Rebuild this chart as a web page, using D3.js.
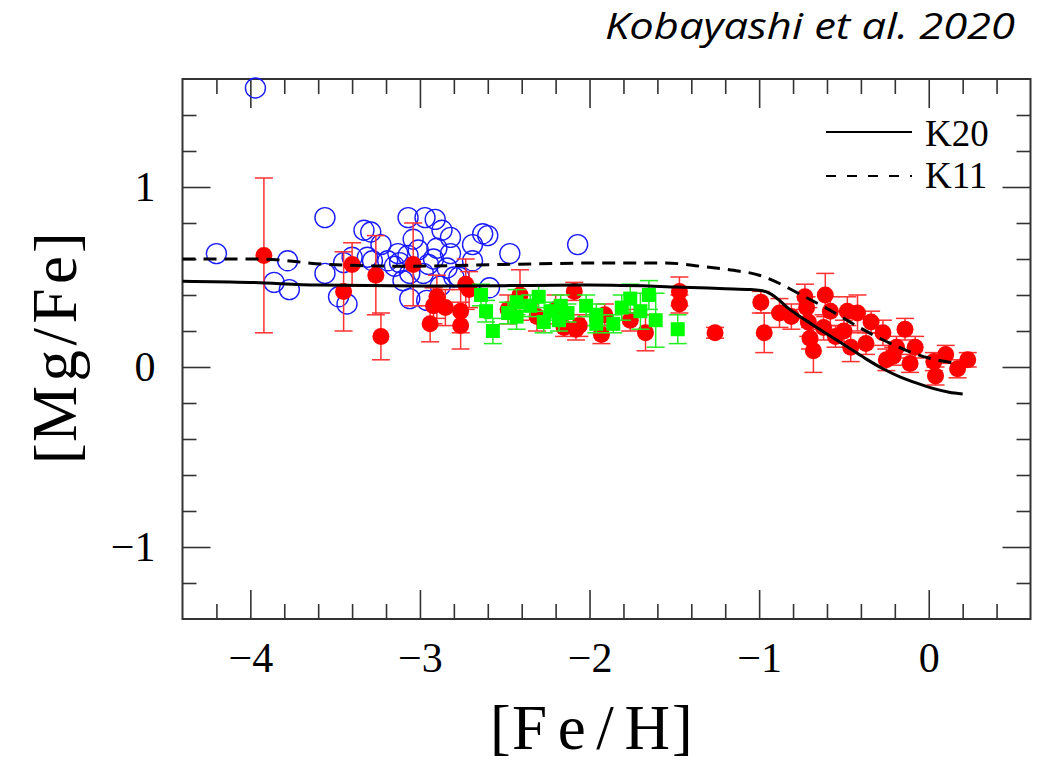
<!DOCTYPE html>
<html><head><meta charset="utf-8">
<script src="https://cdn.jsdelivr.net/npm/d3@7"></script>
<style>body{margin:0;background:#fff}</style>
</head><body>
<svg id="c" width="1046" height="762"></svg>
<script>
// ---- data ----
const xMajorTicks = [-4, -3, -2, -1, 0];
const yMajorTicks = [-1, 0, 1];
const seriesNames = ["K20", "K11"];
const titleText = "Kobayashi et al. 2020";
const xTitle = ["[", "Fe/H", "]"];
const yTitle = ["[", "Mg/Fe", "]"];

const blueX = [-3.97,-4.20,-3.56,-3.86,-3.78,-3.77,-3.56,-3.48,-3.43,-3.45,-3.33,-3.29,-3.31,-3.23,-3.28,-3.19,-3.13,-3.07,-2.97,-2.91,-2.87,-2.82,-3.04,-3.07,-3.01,-2.90,-2.82,-3.12,-3.06,-2.98,-2.84,-2.77,-2.69,-2.69,-2.63,-2.60,-2.47,-2.07,-3.06,-2.96,-2.80,-2.59,-3.40,-3.15,-3.10,-2.95,-2.88,-2.92];
const blueY = [1.55,0.63,0.83,0.47,0.59,0.43,0.52,0.39,0.35,0.58,0.76,0.75,0.61,0.68,0.59,0.59,0.63,0.83,0.83,0.82,0.76,0.72,0.71,0.62,0.65,0.66,0.63,0.58,0.52,0.52,0.55,0.50,0.68,0.59,0.74,0.73,0.63,0.68,0.38,0.37,0.50,0.44,0.61,0.56,0.48,0.57,0.45,0.60];

const redX = [-3.92,-3.40,-3.45,-3.26,-3.23,-3.04,-2.90,-2.92,-2.85,-2.94,-2.76,-2.76,-2.73,-2.71,-2.48,-2.41,-2.31,-2.20,-2.09,-2.08,-2.06,-1.93,-1.91,-1.76,-1.67,-1.47,-1.47,-1.26,-0.99,-0.97,-0.88,-0.81,-0.73,-0.72,-0.71,-0.70,-0.68,-0.61,-0.58,-0.55,-0.48,-0.42,-0.46,-0.34,-0.37,-0.27,-0.25,-0.19,-0.14,-0.08,-0.21,-0.11,0.03,0.10,0.04,0.17,0.23,-0.50,-0.62,-2.15];
const redY = [0.62,0.57,0.42,0.51,0.17,0.57,0.39,0.34,0.33,0.24,0.31,0.23,0.46,0.43,0.32,0.40,0.28,0.32,0.42,0.21,0.23,0.18,0.29,0.26,0.19,0.42,0.35,0.19,0.36,0.19,0.30,0.28,0.39,0.33,0.25,0.16,0.09,0.40,0.31,0.17,0.31,0.30,0.11,0.25,0.13,0.19,0.04,0.11,0.21,0.11,0.06,0.02,0.03,0.07,-0.05,-0.01,0.04,0.20,0.22,0.22];
const redErr = [0.43,0.12,0.22,0.22,0.13,0.23,0.12,0.10,0.10,0.10,0.12,0.13,0.14,0.10,0.08,0.14,0.08,0.08,0.05,0.06,0.06,0.05,0.06,0.06,0.10,0.08,0.05,0.03,0.06,0.11,0.08,0.07,0.07,0.06,0.08,0.06,0.12,0.12,0.08,0.06,0.08,0.10,0.08,0.06,0.06,0.07,0.06,0.06,0.06,0.06,0.05,0.05,0.05,0.05,0.05,0.05,0.04,0.06,0.07,0.05];

const greenX = [-2.64,-2.61,-2.57,-2.43,-2.43,-2.35,-2.30,-2.27,-2.17,-2.18,-2.13,-2.02,-1.96,-1.96,-1.86,-1.81,-1.76,-1.70,-1.65,-1.61,-1.48,-2.48,-2.23];
const greenY = [0.40,0.31,0.20,0.36,0.28,0.34,0.39,0.25,0.34,0.26,0.30,0.34,0.29,0.24,0.24,0.33,0.38,0.31,0.40,0.26,0.21,0.30,0.31];
const greenErr = [0.06,0.06,0.07,0.07,0.07,0.06,0.06,0.06,0.06,0.06,0.05,0.06,0.06,0.05,0.05,0.07,0.08,0.10,0.08,0.15,0.08,0.06,0.05];

const k20X = [-4.4,-4.0,-3.6,-3.0,-2.5,-2.0,-1.5,-1.2,-1.05,-0.98,-0.93,-0.88,-0.84,-0.75,-0.66,-0.56,-0.46,-0.37,-0.27,-0.17,-0.07,0.03,0.12,0.2];
const k20Y = [0.477,0.47,0.455,0.45,0.452,0.455,0.445,0.435,0.43,0.424,0.405,0.37,0.335,0.275,0.22,0.16,0.10,0.045,-0.01,-0.055,-0.09,-0.12,-0.14,-0.15];
const k11X = [-4.4,-3.95,-3.55,-3.1,-2.5,-1.9,-1.55,-1.35,-1.15,-1.0,-0.93,-0.85,-0.8,-0.72,-0.6,-0.5,-0.4,-0.3,-0.2,-0.1,0.0,0.1,0.17];
const k11Y = [0.60,0.60,0.57,0.56,0.57,0.578,0.578,0.56,0.537,0.51,0.485,0.45,0.425,0.385,0.325,0.27,0.215,0.165,0.12,0.08,0.05,0.03,0.02];

// ---- chart ----
const svg = d3.select("#c");
svg.append("rect").attr("width",1046).attr("height",762).attr("fill","#fff");
const L=182.5,R=1030.5,T=79,B=619;
const x = d3.scaleLinear().domain([-4.4,0.6]).range([L,R]);
const y = d3.scaleLinear().domain([-1.4,1.6]).range([B,T]);
const serif = "'Liberation Serif', 'DejaVu Serif', serif";

const xMinor = d3.range(-4.4,0.61,0.2).map(v=>+v.toFixed(1)).filter(v=>!xMajorTicks.includes(v) && v>-4.39 && v<0.59);
const yMinor = d3.range(-1.4,1.61,0.2).map(v=>+v.toFixed(1)).filter(v=>!yMajorTicks.includes(v) && v>-1.39 && v<1.59);

function styleAxis(g){
  g.attr("font-family",null).attr("font-size",null);
  g.select(".domain").remove();
  g.selectAll("line").attr("stroke","#333").attr("stroke-width",1.6);
  g.selectAll("text").style("font-family",serif).style("font-size","42px").attr("fill","#000");
}

// bottom
svg.append("g").attr("transform",`translate(0,${B})`)
  .call(d3.axisBottom(x).tickValues(xMajorTicks).tickSize(-29).tickPadding(23).tickFormat(d3.format("d")))
  .call(styleAxis);
svg.append("g").attr("transform",`translate(0,${B})`)
  .call(d3.axisBottom(x).tickValues(xMinor).tickSize(-15).tickFormat(""))
  .call(styleAxis);
// top
svg.append("g").attr("transform",`translate(0,${T})`)
  .call(d3.axisTop(x).tickValues(xMajorTicks).tickSize(-29).tickFormat(""))
  .call(styleAxis);
svg.append("g").attr("transform",`translate(0,${T})`)
  .call(d3.axisTop(x).tickValues(xMinor).tickSize(-15).tickFormat(""))
  .call(styleAxis);
// left
svg.append("g").attr("transform",`translate(${L},0)`)
  .call(d3.axisLeft(y).tickValues(yMajorTicks).tickSize(-28).tickPadding(27).tickFormat(d3.format("d")))
  .call(styleAxis);
svg.append("g").attr("transform",`translate(${L},0)`)
  .call(d3.axisLeft(y).tickValues(yMinor).tickSize(-14).tickFormat(""))
  .call(styleAxis);
// right
svg.append("g").attr("transform",`translate(${R},0)`)
  .call(d3.axisRight(y).tickValues(yMajorTicks).tickSize(-28).tickFormat(""))
  .call(styleAxis);
svg.append("g").attr("transform",`translate(${R},0)`)
  .call(d3.axisRight(y).tickValues(yMinor).tickSize(-14).tickFormat(""))
  .call(styleAxis);

svg.append("rect").attr("x",L).attr("y",T).attr("width",R-L).attr("height",B-T)
  .attr("fill","none").attr("stroke","#333").attr("stroke-width",2);

const plot = svg.append("g");

// blue open circles
plot.selectAll("circle.blue").data(d3.range(blueX.length)).join("circle")
  .attr("cx",i=>x(blueX[i])).attr("cy",i=>y(blueY[i])).attr("r",10)
  .attr("fill","none").attr("stroke","#1a1aff").attr("stroke-width",1.4);

function errBars(xs,ys,es,color){
  const g = plot.append("g").attr("stroke",color).attr("stroke-width",1.5);
  d3.range(xs.length).forEach(i=>{
    const cx=x(xs[i]), y1=y(ys[i]+es[i]), y2=y(ys[i]-es[i]);
    g.append("line").attr("x1",cx).attr("x2",cx).attr("y1",y1).attr("y2",y2);
    g.append("line").attr("x1",cx-9).attr("x2",cx+9).attr("y1",y1).attr("y2",y1);
    g.append("line").attr("x1",cx-9).attr("x2",cx+9).attr("y1",y2).attr("y2",y2);
  });
}
errBars(redX,redY,redErr,"#ff3030");
plot.selectAll("circle.red").data(d3.range(redX.length)).join("circle")
  .attr("cx",i=>x(redX[i])).attr("cy",i=>y(redY[i])).attr("r",8.5)
  .attr("fill","#ff0000");

errBars(greenX,greenY,greenErr,"#22ee22");
plot.selectAll("rect.green").data(d3.range(greenX.length)).join("rect")
  .attr("x",i=>x(greenX[i])-7).attr("y",i=>y(greenY[i])-7).attr("width",14).attr("height",14)
  .attr("fill","#00ff00");

// model curves
const line = d3.line().curve(d3.curveMonotoneX);
plot.append("path").attr("d",line(k20X.map((v,i)=>[x(v),y(k20Y[i])])))
  .attr("fill","none").attr("stroke","#000").attr("stroke-width",3);
plot.append("path").attr("d",line(k11X.map((v,i)=>[x(v),y(k11Y[i])])))
  .attr("fill","none").attr("stroke","#000").attr("stroke-width",3).attr("stroke-dasharray","13,8");

// legend
const leg = svg.append("g").style("font-family",serif).style("font-size","37px");
leg.append("line").attr("x1",826).attr("x2",912).attr("y1",132).attr("y2",132).attr("stroke","#000").attr("stroke-width",2);
leg.append("text").attr("x",925).attr("y",146).text(seriesNames[0]);
leg.append("line").attr("x1",826).attr("x2",912).attr("y1",176).attr("y2",176).attr("stroke","#000").attr("stroke-width",2).attr("stroke-dasharray","10,11");
leg.append("text").attr("x",925).attr("y",188).text(seriesNames[1]);

// axis titles
const xt = svg.append("g").style("font-family",serif);
xt.append("text").attr("x",490).attr("y",748).style("font-size","62px").text(xTitle[0]);
xt.append("text").attr("x",512).attr("y",749).style("font-size","63px").attr("textLength",158).attr("lengthAdjust","spacing").text(xTitle[1]);
xt.append("text").attr("x",672).attr("y",748).style("font-size","62px").text(xTitle[2]);

const yt = svg.append("g").attr("transform","translate(77,0) rotate(-90)").style("font-family",serif);
yt.append("text").attr("x",-464).attr("y",0).style("font-size","62px").text(yTitle[0]);
yt.append("text").attr("x",-442).attr("y",-1).style("font-size","63px").attr("textLength",186).attr("lengthAdjust","spacing").text(yTitle[1]);
yt.append("text").attr("x",-253).attr("y",0).style("font-size","62px").text(yTitle[2]);

// title
svg.append("text").attr("x",605).attr("y",39)
  .style("font-family","'Open Sans', sans-serif").style("font-style","italic").style("font-size","36px")
  .attr("textLength",410).attr("lengthAdjust","spacingAndGlyphs").text(titleText);
</script>
</body></html>
